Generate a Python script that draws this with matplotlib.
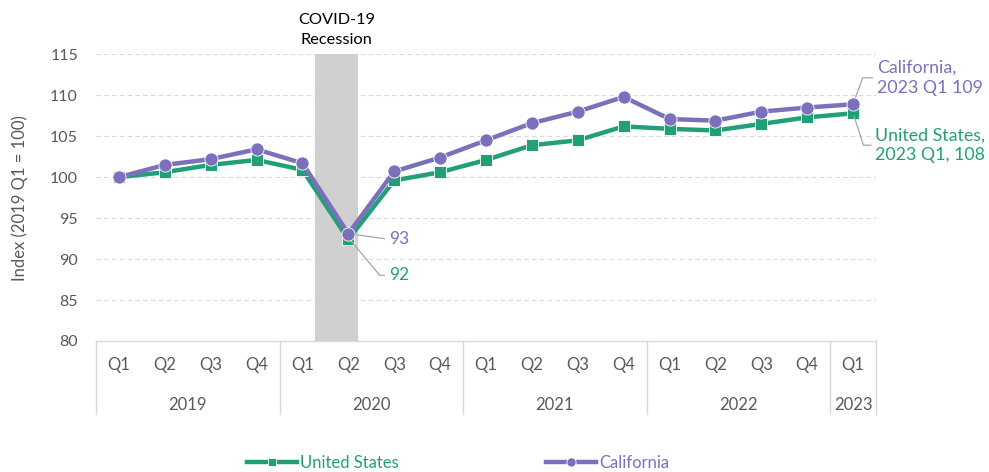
import numpy as np
import matplotlib.pyplot as plt

plt.rcParams['font.family'] = ['Lato', 'DejaVu Sans']

quarters = ["Q1", "Q2", "Q3", "Q4"] * 4 + ["Q1"]
years = ["2019", "2020", "2021", "2022", "2023"]
year_quarters = [4, 4, 4, 4, 1]

us = [100.0, 100.6, 101.5, 102.1, 100.9, 92.4, 99.6, 100.6, 102.1,
      103.9, 104.5, 106.2, 105.9, 105.7, 106.5, 107.3, 107.8]
ca = [100.0, 101.5, 102.2, 103.4, 101.7, 93.1, 100.7, 102.4, 104.5,
      106.6, 108.0, 109.8, 107.1, 106.9, 108.0, 108.5, 108.9]

purple = "#7B70BC"
green = "#21A077"
gray_txt = "#595959"
leader = "#A6A6A6"

fig = plt.figure(figsize=(9.89, 4.72), dpi=100)
ax = fig.add_axes([96/989, 1-341/472, (876-96)/989, (341-54.3)/472])

x = np.arange(len(us))
ax.set_xlim(-0.5, len(us) - 0.5)
ax.set_ylim(80, 115)

# recession shading
ax.axvspan(4.27, 5.22, color="#D0D0D0", zorder=1, lw=0)

for v in range(85, 116, 5):
    ax.axhline(v, color="#D9D9D9", lw=0.8, dashes=(4, 3), zorder=0)
ax.axhline(80, color="#D9D9D9", lw=1.0, zorder=0, clip_on=False)

ax.plot(x, us, color=green, lw=3.2, marker="s", ms=8.5, mec="white", mew=0.6,
        label="United States", zorder=3)
ax.plot(x, ca, color=purple, lw=3.2, marker="o", ms=9.5, mec="white", mew=0.6,
        label="California", zorder=4)

for s in ax.spines.values():
    s.set_visible(False)
ax.set_xticks([])
ax.set_yticks(range(80, 116, 5))
ax.tick_params(axis="y", length=0, pad=13, labelsize=11.5, labelcolor=gray_txt)
ax.set_ylabel("Index (2019 Q1 = 100)", fontsize=12, color=gray_txt)
ax.yaxis.set_label_coords(-0.087, 0.5)

# two level category axis
tr = ax.get_xaxis_transform()
for i, q in enumerate(quarters):
    ax.text(i, -0.084, q, transform=tr, ha="center", va="center",
            fontsize=12, color=gray_txt)
start = 0
bounds = [-0.5]
for yr, n in zip(years, year_quarters):
    ax.text(start + (n - 1) / 2, -0.223, yr, transform=tr, ha="center",
            va="center", fontsize=12, color=gray_txt)
    start += n
    bounds.append(start - 0.5)
for b in bounds:
    ax.plot([b, b], [0, -0.255], transform=tr, color="#D9D9D9", lw=1,
            clip_on=False)

ax.text(4.75, 1.085, "COVID-19\nRecession", transform=tr, ha="center",
        va="center", fontsize=11.8, color="black", linespacing=1.55)

# data labels
lp = dict(arrowstyle="-", color=leader, lw=0.9, shrinkA=1, shrinkB=2)
ax.annotate("93", xy=(5, ca[5]), xytext=(29, -4), textcoords="offset points",
            ha="left", va="center", fontsize=12.5, color=purple,
            arrowprops=dict(lp, relpos=(0, 0.5)))
ax.annotate("92", xy=(5, ca[5] - 0.5), xytext=(29, -27), textcoords="offset points",
            ha="left", va="center", fontsize=12.5, color=green,
            arrowprops=dict(lp, relpos=(0, 0.5),
                            connectionstyle="angle,angleA=0,angleB=130,rad=0"))
ax.annotate("California,\n2023 Q1 109", xy=(16, ca[16]), xytext=(17, 19),
            textcoords="offset points", ha="left", va="center", fontsize=12.8,
            color=purple, linespacing=1.3, annotation_clip=False,
            arrowprops=dict(lp, relpos=(0, 0.5),
                            connectionstyle="angle,angleA=0,angleB=70,rad=0"))
ax.annotate("United States,\n2023 Q1, 108", xy=(16, us[16]), xytext=(16, -23),
            textcoords="offset points", ha="left", va="center", fontsize=12.8,
            color=green, linespacing=1.3, multialignment="center",
            annotation_clip=False,
            arrowprops=dict(lp, relpos=(0, 0.5),
                            connectionstyle="angle,angleA=0,angleB=-72,rad=0"))

leg = fig.legend(loc="center", bbox_to_anchor=(0.463, 0.02), ncol=2,
                 frameon=False, fontsize=12, handlelength=3.0, markerscale=0.7,
                 columnspacing=8.8, handletextpad=0.2)
for txt, c in zip(leg.get_texts(), [green, purple]):
    txt.set_color(c)

fig.savefig("out.png", dpi=100)
